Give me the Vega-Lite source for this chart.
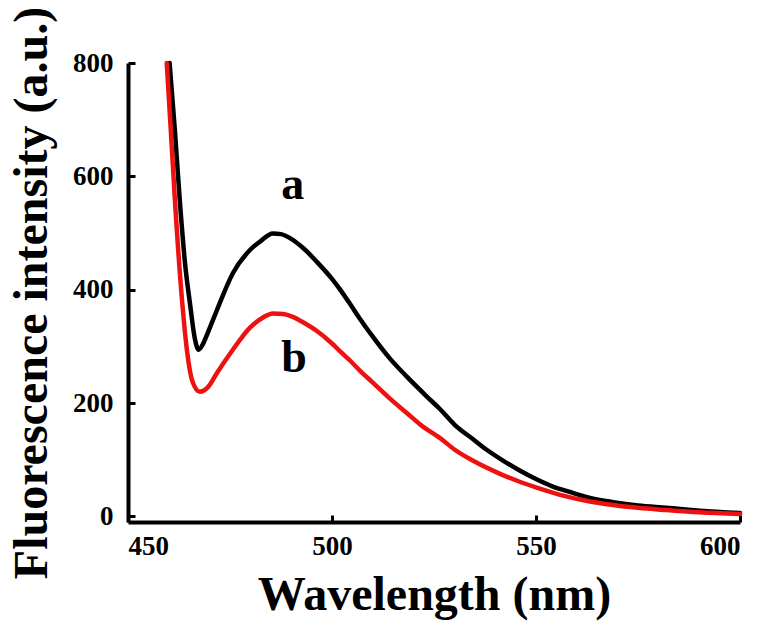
{
  "$schema": "https://vega.github.io/schema/vega-lite/v6.json",
  "width": 612,
  "height": 459,
  "autosize": {"type": "none"},
  "padding": {"left": 128, "top": 63, "right": 25, "bottom": 115},
  "background": "white",
  "config": {
    "view": {"stroke": null},
    "axis": {
      "grid": false,
      "domainColor": "#000000",
      "domainWidth": 4,
      "tickColor": "#000000",
      "tickWidth": 3,
      "tickSize": -7,
      "labelFont": "Liberation Serif",
      "labelFontWeight": "bold",
      "labelFontSize": 27,
      "labelColor": "#000000",
      "titleFont": "Liberation Serif",
      "titleFontWeight": "bold",
      "titleFontSize": 48,
      "titleColor": "#000000"
    }
  },
  "layer": [
    {
      "data": {
        "values": [
          {"wavelength": 460.2, "intensity": 800, "sample": "a"},
          {"wavelength": 461.5, "intensity": 680, "sample": "a"},
          {"wavelength": 462.7, "intensity": 557, "sample": "a"},
          {"wavelength": 464.0, "intensity": 445, "sample": "a"},
          {"wavelength": 465.2, "intensity": 375, "sample": "a"},
          {"wavelength": 466.4, "intensity": 313, "sample": "a"},
          {"wavelength": 467.3, "intensity": 294, "sample": "a"},
          {"wavelength": 468.3, "intensity": 303, "sample": "a"},
          {"wavelength": 469.5, "intensity": 323, "sample": "a"},
          {"wavelength": 471.8, "intensity": 364, "sample": "a"},
          {"wavelength": 475.7, "intensity": 429, "sample": "a"},
          {"wavelength": 479.9, "intensity": 470, "sample": "a"},
          {"wavelength": 482.4, "intensity": 485, "sample": "a"},
          {"wavelength": 485.5, "intensity": 499, "sample": "a"},
          {"wavelength": 487.5, "intensity": 498, "sample": "a"},
          {"wavelength": 489.7, "intensity": 491, "sample": "a"},
          {"wavelength": 493.0, "intensity": 473, "sample": "a"},
          {"wavelength": 496.3, "intensity": 449, "sample": "a"},
          {"wavelength": 500.0, "intensity": 419, "sample": "a"},
          {"wavelength": 502.0, "intensity": 400, "sample": "a"},
          {"wavelength": 504.4, "intensity": 375, "sample": "a"},
          {"wavelength": 507.0, "intensity": 347, "sample": "a"},
          {"wavelength": 510.0, "intensity": 317, "sample": "a"},
          {"wavelength": 514.0, "intensity": 280, "sample": "a"},
          {"wavelength": 518.4, "intensity": 246, "sample": "a"},
          {"wavelength": 523.3, "intensity": 211, "sample": "a"},
          {"wavelength": 526.5, "intensity": 189, "sample": "a"},
          {"wavelength": 530.0, "intensity": 162, "sample": "a"},
          {"wavelength": 534.6, "intensity": 136, "sample": "a"},
          {"wavelength": 538.0, "intensity": 117, "sample": "a"},
          {"wavelength": 542.0, "intensity": 98, "sample": "a"},
          {"wavelength": 546.0, "intensity": 81, "sample": "a"},
          {"wavelength": 550.0, "intensity": 66, "sample": "a"},
          {"wavelength": 554.0, "intensity": 53, "sample": "a"},
          {"wavelength": 558.3, "intensity": 43, "sample": "a"},
          {"wavelength": 563.0, "intensity": 33, "sample": "a"},
          {"wavelength": 568.9, "intensity": 25, "sample": "a"},
          {"wavelength": 575.0, "intensity": 19, "sample": "a"},
          {"wavelength": 582.0, "intensity": 15, "sample": "a"},
          {"wavelength": 590.0, "intensity": 10, "sample": "a"},
          {"wavelength": 600.0, "intensity": 6, "sample": "a"},
          {"wavelength": 459.5, "intensity": 800, "sample": "b"},
          {"wavelength": 460.5, "intensity": 680, "sample": "b"},
          {"wavelength": 461.5, "intensity": 558, "sample": "b"},
          {"wavelength": 463.2, "intensity": 385, "sample": "b"},
          {"wavelength": 464.5, "intensity": 290, "sample": "b"},
          {"wavelength": 465.8, "intensity": 238, "sample": "b"},
          {"wavelength": 467.6, "intensity": 220, "sample": "b"},
          {"wavelength": 469.6, "intensity": 228, "sample": "b"},
          {"wavelength": 471.8, "intensity": 253, "sample": "b"},
          {"wavelength": 475.7, "intensity": 294, "sample": "b"},
          {"wavelength": 479.9, "intensity": 333, "sample": "b"},
          {"wavelength": 483.1, "intensity": 351, "sample": "b"},
          {"wavelength": 485.5, "intensity": 358, "sample": "b"},
          {"wavelength": 488.0, "intensity": 357, "sample": "b"},
          {"wavelength": 490.4, "intensity": 352, "sample": "b"},
          {"wavelength": 493.0, "intensity": 342, "sample": "b"},
          {"wavelength": 496.3, "intensity": 327, "sample": "b"},
          {"wavelength": 500.0, "intensity": 305, "sample": "b"},
          {"wavelength": 502.0, "intensity": 291, "sample": "b"},
          {"wavelength": 504.4, "intensity": 275, "sample": "b"},
          {"wavelength": 507.0, "intensity": 256, "sample": "b"},
          {"wavelength": 510.0, "intensity": 236, "sample": "b"},
          {"wavelength": 514.0, "intensity": 209, "sample": "b"},
          {"wavelength": 518.4, "intensity": 182, "sample": "b"},
          {"wavelength": 522.0, "intensity": 160, "sample": "b"},
          {"wavelength": 526.5, "intensity": 138, "sample": "b"},
          {"wavelength": 530.0, "intensity": 118, "sample": "b"},
          {"wavelength": 534.6, "intensity": 98, "sample": "b"},
          {"wavelength": 541.2, "intensity": 75, "sample": "b"},
          {"wavelength": 546.0, "intensity": 61, "sample": "b"},
          {"wavelength": 550.0, "intensity": 51, "sample": "b"},
          {"wavelength": 555.9, "intensity": 38, "sample": "b"},
          {"wavelength": 562.0, "intensity": 28, "sample": "b"},
          {"wavelength": 568.9, "intensity": 20, "sample": "b"},
          {"wavelength": 575.0, "intensity": 15, "sample": "b"},
          {"wavelength": 582.0, "intensity": 11, "sample": "b"},
          {"wavelength": 590.0, "intensity": 7, "sample": "b"},
          {"wavelength": 600.0, "intensity": 4, "sample": "b"}
        ]
      },
      "mark": {"type": "line", "strokeWidth": 4.5, "interpolate": "monotone", "strokeCap": "round"},
      "encoding": {
        "x": {
          "field": "wavelength",
          "type": "quantitative",
          "scale": {"domain": [450, 600], "nice": false},
          "axis": {
            "title": "Wavelength (nm)",
            "values": [450, 500, 550, 600],
            "labelPadding": 18,
            "titlePadding": 12
          }
        },
        "y": {
          "field": "intensity",
          "type": "quantitative",
          "scale": {"domain": [-10, 800], "nice": false},
          "axis": {
            "title": "Fluorescence intensity (a.u.)",
            "values": [0, 200, 400, 600, 800],
            "labelPadding": 22,
            "titlePadding": 16
          }
        },
        "color": {
          "field": "sample",
          "type": "nominal",
          "scale": {"domain": ["a", "b"], "range": ["#000000", "#ee1111"]},
          "legend": null
        }
      }
    },
    {
      "data": {
        "values": [
          {"wavelength": 490.4, "intensity": 585, "label": "a"},
          {"wavelength": 490.7, "intensity": 279, "label": "b"}
        ]
      },
      "mark": {"type": "text", "font": "Liberation Serif", "fontWeight": "bold", "fontSize": 46, "align": "center", "baseline": "middle", "color": "#000000"},
      "encoding": {
        "x": {"field": "wavelength", "type": "quantitative"},
        "y": {"field": "intensity", "type": "quantitative"},
        "text": {"field": "label"}
      }
    }
  ]
}
